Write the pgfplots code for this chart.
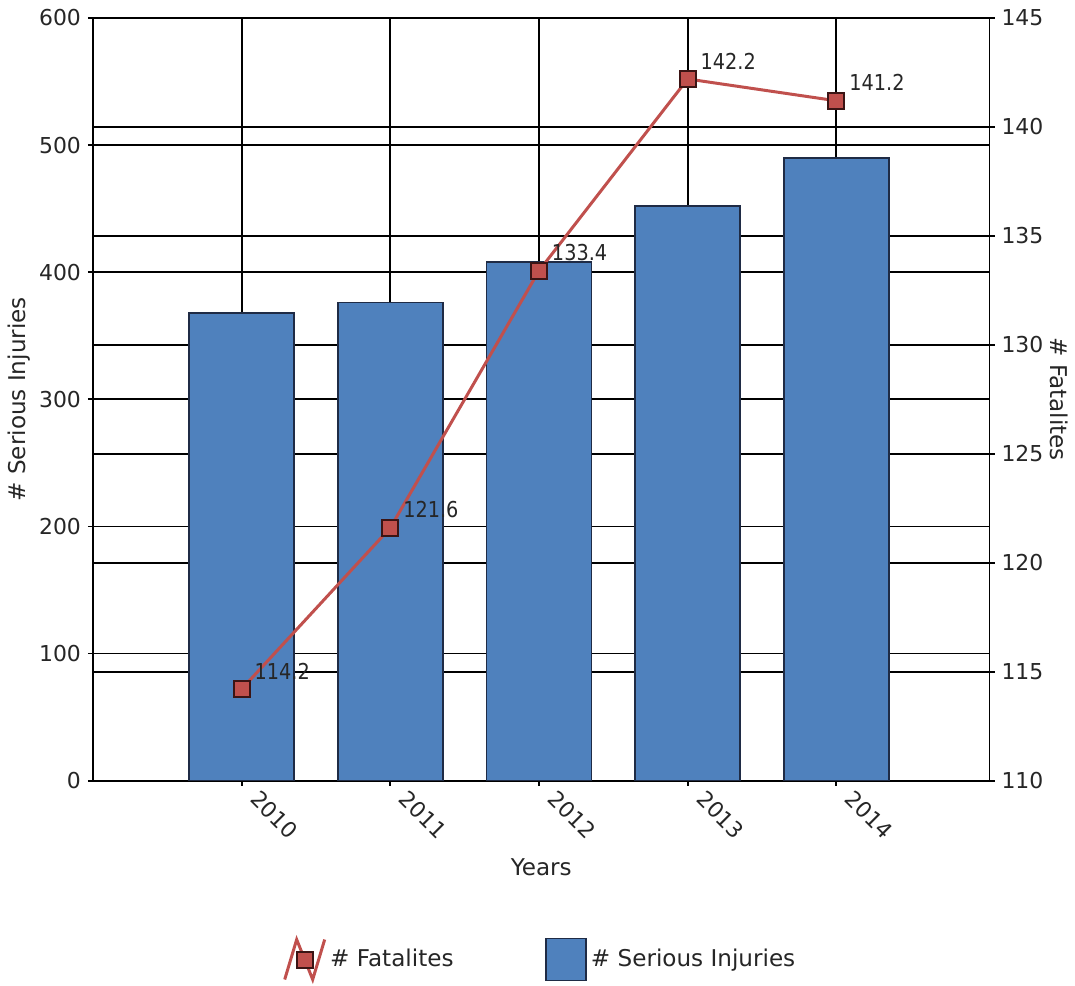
\documentclass[border=0pt]{standalone}
\usepackage{fontspec}
\setmainfont{DejaVu Sans}
\newfontfamily\lblfont[FakeStretch=0.88]{DejaVu Sans}
\usepackage{pgfplots}
\pgfplotsset{compat=1.18}

\definecolor{barblue}{HTML}{4F81BD}
\definecolor{baredge}{HTML}{1F2B45}
\definecolor{linered}{HTML}{C0504D}
\definecolor{mkedge}{HTML}{3B1414}
\definecolor{txt}{HTML}{262626}

\pgfplotsset{
  base/.style={
    scale only axis, width=448.5bp, height=381.5bp,
    xmin=-1, xmax=5.03,
    font=\fontsize{11}{13}\selectfont,
    /pgf/number format/assume math mode=true,
    tick label style={text=txt},
    label style={text=txt, font=\fontsize{11.6}{14}\selectfont},
    major grid style={black, line width=0.9bp},
    axis line style={black, line width=0.9bp},
    tick style={black, line width=0.9bp},
    tick align=outside, major tick length=2.5bp,
  }
}

\begin{document}
\begin{tikzpicture}
% right scale: its grid goes behind the bars
\begin{axis}[base,
  ymin=110, ymax=145, ytick={110,115,...,145},
  ymajorgrids, axis y line*=right, axis x line=none,
  ylabel={\# Fatalites},
  ylabel style={rotate=180, at={(axis description cs:1.078,0.5)}, anchor=center}]
\addplot[draw=none] coordinates {(0,120)};
\end{axis}

% left scale with the bars
\begin{axis}[base, name=main,
  ymin=0, ymax=600, ytick={0,100,...,600}, ytick pos=left,
  xtick={0,...,4}, xticklabels={2010,2011,2012,2013,2014}, xtick pos=bottom,
  xmajorgrids, ymajorgrids,
  x tick label style={xshift=9.5bp, yshift=-1.5bp, rotate=-45, anchor=north west, inner sep=0pt},
  xlabel={Years},
  xlabel style={at={(axis description cs:0.5,-0.114)}, anchor=center},
  ylabel={\# Serious Injuries},
  ylabel style={at={(axis description cs:-0.0825,0.5)}, anchor=center}]
\addplot[ybar, bar width=52.5bp, fill=barblue, draw=baredge, line width=0.75bp]
  coordinates {(0,368) (1,376) (2,408) (3,452) (4,490)};
\end{axis}

% right scale with the line
\begin{axis}[base, ymin=110, ymax=145, hide axis,
  legend style={at={(axis description cs:0.5,-0.2346)}, anchor=center,
    draw=none, fill=none, legend columns=2, text=txt,
    font=\fontsize{11.6}{14}\selectfont,
    /tikz/every even column/.append style={column sep=44bp}},
  legend cell align=left]
\addplot[linered, line width=1.5bp, mark=square*, mark size=4bp,
  mark options={fill=linered, draw=mkedge, line width=1bp},
  nodes near coords={\pgfmathprintnumber[fixed,precision=1,fixed zerofill]{\pgfplotspointmeta}},
  every node near coord/.append style={anchor=south west, inner sep=0pt,
    xshift=6bp, yshift=4.5bp, text=txt, font=\lblfont\fontsize{11}{13}\selectfont},
  legend image code/.code={
    \draw[linered, line width=1.5bp] (0bp,-10bp) -- (6bp,10bp) -- (14bp,-10bp) -- (20bp,10bp);
    \draw[fill=linered, draw=mkedge, line width=1bp] (6bp,-4bp) rectangle (14bp,4bp);}]
  coordinates {(0,114.2) (1,121.6) (2,133.4) (3,142.2) (4,141.2)};
\addlegendentry{\# Fatalites}
\addlegendimage{legend image code/.code={
    \draw[fill=barblue, draw=baredge, line width=0.75bp] (0bp,-10.5bp) rectangle (20bp,10.5bp);}}
\addlegendentry{\# Serious Injuries}
\end{axis}

\path ([xshift=-46.5bp,yshift=-102bp]main.south west) rectangle ([xshift=42.5bp,yshift=9bp]main.north east);
\end{tikzpicture}
\end{document}
